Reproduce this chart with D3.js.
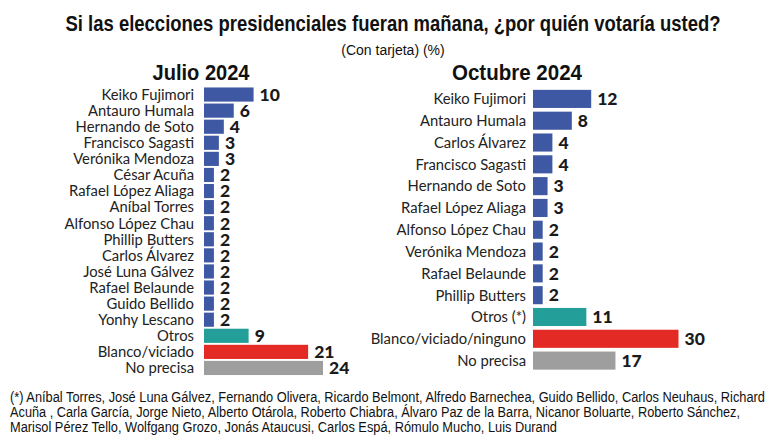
<!DOCTYPE html>
<html><head><meta charset="utf-8">
<script src="https://cdn.jsdelivr.net/npm/d3@7"></script>
<style>
body{margin:0;background:#fff;}
svg{display:block;}
</style></head>
<body><svg id="c" width="776" height="443"></svg>
<script>
const titleText = "Si las elecciones presidenciales fueran mañana, ¿por quién votaría usted?";
const subtitleText = "(Con tarjeta) (%)";
const julioTitle = "Julio 2024";
const octubreTitle = "Octubre 2024";
const julioNames = ["Keiko Fujimori","Antauro Humala","Hernando de Soto","Francisco Sagasti","Verónika Mendoza","César Acuña","Rafael López Aliaga","Aníbal Torres","Alfonso López Chau","Phillip Butters","Carlos Álvarez","José Luna Gálvez","Rafael Belaunde","Guido Bellido","Yonhy Lescano","Otros","Blanco/viciado","No precisa"];
const julioValues = [10,6,4,3,3,2,2,2,2,2,2,2,2,2,2,9,21,24];
const octubreNames = ["Keiko Fujimori","Antauro Humala","Carlos Álvarez","Francisco Sagasti","Hernando de Soto","Rafael López Aliaga","Alfonso López Chau","Verónika Mendoza","Rafael Belaunde","Phillip Butters","Otros (*)","Blanco/viciado/ninguno","No precisa"];
const octubreValues = [12,8,4,4,3,3,2,2,2,2,11,30,17];
const footnoteLines = [
 "(*) Aníbal Torres, José Luna Gálvez, Fernando Olivera, Ricardo Belmont, Alfredo Barnechea, Guido Bellido, Carlos Neuhaus, Richard",
 "Acuña , Carla García, Jorge Nieto, Alberto Otárola, Roberto Chiabra, Álvaro Paz de la Barra, Nicanor Boluarte, Roberto Sánchez,",
 "Marisol Pérez Tello, Wolfgang Grozo, Jonás Ataucusi, Carlos Espá, Rómulo Mucho, Luis Durand"
];
const footnoteWidths = [755, 730, 547];

const colorFor = n => n.startsWith("Otros") ? "#239E98" : n.startsWith("Blanco") ? "#E42A25" : n === "No precisa" ? "#9E9E9E" : "#3F58A3";
const NARROW = "'Liberation Sans Narrow','Liberation Sans',Arial,sans-serif";
const LABEL = "Lato,'Liberation Sans',Arial,sans-serif";
const svg = d3.select("#c");

svg.append("text").attr("x",393).attr("y",31).attr("text-anchor","middle")
  .attr("font-family",NARROW).attr("font-weight","bold").attr("font-size",22).attr("fill","#111")
  .attr("textLength",655).attr("lengthAdjust","spacingAndGlyphs").text(titleText);
svg.append("text").attr("x",393).attr("y",55).attr("text-anchor","middle")
  .attr("font-family",NARROW).attr("font-size",14).attr("fill","#111").text(subtitleText);

function panel(names, values, cfg){
  const g = svg.append("g");
  const x = d3.scaleLinear().domain([0,cfg.max]).range([cfg.x0, cfg.x1]);
  const y = d3.scaleBand().domain(names).range([cfg.y0, cfg.y1]).paddingInner(cfg.pad).paddingOuter(cfg.pad/2);
  g.append("text").attr("x",cfg.tx).attr("y",80).attr("text-anchor","middle")
    .attr("font-family",NARROW).attr("font-weight","bold").attr("font-size",22).attr("fill","#111")
    .attr("textLength",cfg.tw).attr("lengthAdjust","spacingAndGlyphs").text(cfg.title);
  const rows = g.selectAll("g.row").data(names.map((n,i)=>({n, v:values[i]}))).join("g");
  rows.append("rect").attr("x",x(0)).attr("y",d=>y(d.n)).attr("width",d=>x(d.v)-x(0)).attr("height",y.bandwidth()).attr("fill",d=>colorFor(d.n));
  rows.append("text").attr("x",x(0)-cfg.lgap).attr("y",d=>y(d.n)+y.bandwidth()/2).attr("dy","0.36em")
    .attr("text-anchor","end").attr("font-family",LABEL).attr("font-size",cfg.fs).attr("fill","#222").text(d=>d.n);
  rows.append("text").attr("x",d=>x(d.v)+6).attr("y",d=>y(d.n)+y.bandwidth()/2).attr("dy","0.36em")
    .attr("font-family",LABEL).attr("font-weight",900).attr("font-size",cfg.vfs).attr("fill","#1a1a1a").text(d=>d.v);
}
panel(julioNames, julioValues, {max:24, x0:204, x1:323, y0:86.5, y1:376, pad:0.12, tx:201, tw:97, title:julioTitle, lgap:10, fs:14.8, vfs:17.5});
panel(octubreNames, octubreValues, {max:30, x0:533, x1:678.5, y0:88, y1:371.5, pad:0.17, tx:517, tw:130, title:octubreTitle, lgap:7, fs:14.8, vfs:17.5});

svg.append("g").selectAll("text").data(footnoteLines).join("text")
  .attr("x",10).attr("y",(d,i)=>402+i*15).attr("font-family",NARROW).attr("font-size",14).attr("fill","#111")
  .attr("textLength",(d,i)=>footnoteWidths[i]).attr("lengthAdjust","spacingAndGlyphs").text(d=>d);
</script></body></html>
